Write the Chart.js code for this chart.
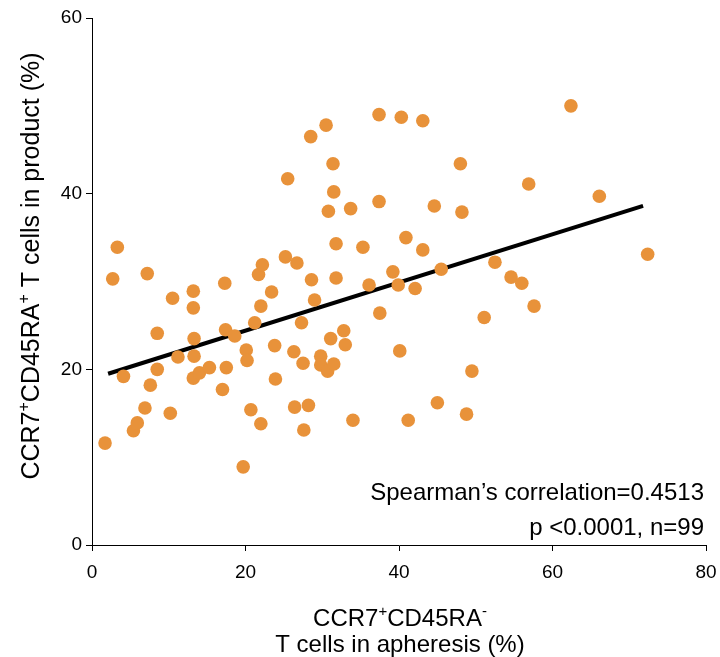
<!DOCTYPE html>
<html>
<head>
<meta charset="utf-8">
<script src="https://cdn.jsdelivr.net/npm/chart.js@4.4.0/dist/chart.umd.min.js"></script>
<style>
  body { margin: 0; background: #fff; }
  canvas { display: block; }
</style>
</head>
<body>
<canvas id="myChart" width="720" height="657"></canvas>
<script>
// apheresis % (x) vs product % (y)
var apheresis = [1.7, 3.3, 2.7, 4.1, 5.4, 5.9, 6.9, 7.6, 7.2, 8.5, 8.5, 10.5, 10.2, 11.2, 13.2, 13.2,
  13.3, 13.3, 13.2, 14.0, 15.3, 17.0, 17.3, 17.4, 17.5, 18.6, 19.7, 20.1, 20.2, 20.7, 21.2, 21.7,
  22.2, 22.0, 22.0, 23.4, 23.8, 23.9, 25.2, 25.5, 26.3, 26.4, 26.7, 27.3, 27.5, 27.6, 28.2, 28.5,
  28.6, 29.0, 29.8, 29.8, 30.5, 30.7, 30.8, 31.1, 31.4, 31.5, 31.5, 31.8, 31.8, 32.8, 33.0, 33.7,
  34.0, 35.3, 36.1, 37.4, 37.4, 37.5, 39.2, 39.9, 40.3, 40.1, 40.9, 41.2, 42.1, 43.1, 43.1, 44.6,
  45.0, 45.5, 48.0, 48.2, 48.8, 49.5, 51.1, 52.5, 54.6, 56.0, 56.9, 57.6, 62.4, 66.1, 72.4];
var product = [11.6, 33.9, 30.3, 19.2, 13.0, 13.9, 15.6, 18.2, 30.9, 20.0, 24.1, 28.1, 15.0, 21.4, 28.9, 27.0,
  23.5, 21.5, 19.0, 19.6, 20.2, 17.7, 29.8, 24.5, 20.2, 23.8, 8.9, 22.2, 21.0, 15.4, 25.3, 30.8,
  31.9, 27.2, 13.8, 28.8, 22.7, 18.9, 32.8, 41.7, 22.0, 15.7, 32.1, 25.3, 20.7, 13.1, 15.9, 46.5,
  30.2, 27.9, 21.5, 20.5, 47.8, 19.8, 38.0, 23.5, 43.4, 40.2, 20.6, 34.3, 30.4, 24.4, 22.8, 38.3,
  14.2, 33.9, 29.6, 49.0, 39.1, 26.4, 31.1, 29.6, 48.7, 22.1, 35.0, 14.2, 29.2, 48.3, 33.6, 38.6,
  16.2, 31.4, 43.4, 37.9, 14.9, 19.8, 25.9, 32.2, 30.5, 29.8, 41.1, 27.2, 50.0, 39.7, 33.1];

// fitted line end points
var fitX = [2.1, 71.8];
var fitY = [19.5, 38.6];

var xTicks = [0, 20, 40, 60, 80];
var yTicks = [0, 20, 40, 60];

var FONT = "'Liberation Sans', Arial, sans-serif";

var points = apheresis.map(function(v, i) { return { x: v, y: product[i] }; });
var fitLine = fitX.map(function(v, i) { return { x: v, y: fitY[i] }; });

// draws text made of normal + superscript parts
function drawRich(ctx, parts, x, y, size, align) {
  var supSize = Math.round(size * 0.62);
  var total = 0;
  parts.forEach(function(p) {
    ctx.font = (p[1] ? supSize : size) + "px " + FONT;
    p.w = ctx.measureText(p[0]).width;
    total += p.w;
  });
  var cx = x;
  if (align == "center") cx = x - total / 2;
  if (align == "right") cx = x - total;
  ctx.textAlign = "left";
  ctx.textBaseline = "alphabetic";
  parts.forEach(function(p) {
    ctx.font = (p[1] ? supSize : size) + "px " + FONT;
    ctx.fillText(p[0], cx, p[1] ? y - size * 0.42 : y);
    cx += p.w;
  });
}

var labelsPlugin = {
  id: "labels",
  afterDraw: function(chart) {
    var ctx = chart.ctx;
    ctx.save();
    ctx.fillStyle = "#000";
    // y title
    ctx.save();
    ctx.translate(39, 266);
    ctx.rotate(-Math.PI / 2);
    drawRich(ctx, [["CCR7"], ["+", 1], ["CD45RA"], ["+", 1], [" T cells in product (%)"]], 0, 0, 25, "center");
    ctx.restore();
    // x title
    drawRich(ctx, [["CCR7"], ["+", 1], ["CD45RA"], ["-", 1]], 400, 626, 24, "center");
    drawRich(ctx, [["T cells in apheresis (%)"]], 400, 652, 24, "center");
    // stats
    drawRich(ctx, [["Spearman\u2019s correlation=0.4513"]], 704, 500, 24, "right");
    drawRich(ctx, [["p <0.0001, n=99"]], 704, 535, 24, "right");
    ctx.restore();
  }
};

var ctx = document.getElementById("myChart").getContext("2d");
var myChart = new Chart(ctx, {
  type: "scatter",
  data: {
    datasets: [{
      data: points,
      backgroundColor: "#E8923A",
      borderWidth: 0,
      pointRadius: 6.8,
      pointHoverRadius: 6.8
    }, {
      type: "line",
      data: fitLine,
      borderColor: "#000",
      borderWidth: 4,
      pointRadius: 0,
      fill: false
    }]
  },
  options: {
    responsive: false,
    animation: false,
    layout: { padding: { top: 18, right: 14, left: 0, bottom: 0 } },
    plugins: {
      legend: { display: false },
      tooltip: { enabled: false }
    },
    scales: {
      x: {
        type: "linear",
        min: 0,
        max: 80,
        afterBuildTicks: function(s) { s.ticks = xTicks.map(function(v) { return { value: v }; }); },
        afterFit: function(s) { s.height = 112; s.paddingLeft = 0; s.paddingRight = 0; },
        ticks: { color: "#000", font: { family: FONT, size: 19 }, padding: 10, maxRotation: 0 },
        grid: { drawOnChartArea: false, drawTicks: true, tickLength: 6, color: "#000" },
        border: { color: "#000", width: 1 }
      },
      y: {
        type: "linear",
        min: 0,
        max: 60,
        afterBuildTicks: function(s) { s.ticks = yTicks.map(function(v) { return { value: v }; }); },
        afterFit: function(s) { s.width = 92; s.paddingTop = 0; s.paddingBottom = 0; },
        ticks: { color: "#000", font: { family: FONT, size: 19 }, padding: 4 },
        grid: { drawOnChartArea: false, drawTicks: true, tickLength: 6, color: "#000" },
        border: { color: "#000", width: 1 }
      }
    }
  },
  plugins: [labelsPlugin]
});
</script>
</body>
</html>
